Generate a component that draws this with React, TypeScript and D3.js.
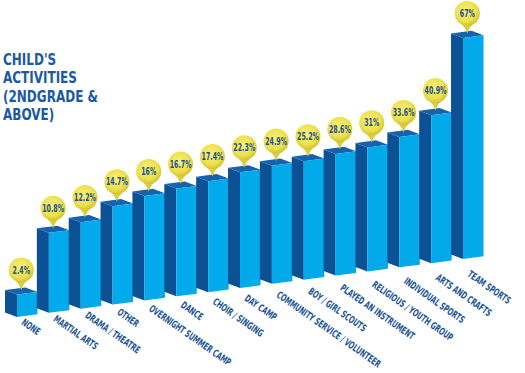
import React from "react";
import * as d3 from "d3";

const categories = [
  "NONE",
  "MARTIAL ARTS",
  "DRAMA / THEATRE",
  "OTHER",
  "OVERNIGHT SUMMER CAMP",
  "DANCE",
  "CHOIR / SINGING",
  "DAY CAMP",
  "COMMUNITY SERVICE / VOLUNTEER",
  "BOY / GIRL SCOUTS",
  "PLAYED AN INSTRUMENT",
  "RELIGIOUS / YOUTH GROUP",
  "INDIVIDUAL SPORTS",
  "ARTS AND CRAFTS",
  "TEAM SPORTS",
];
const values = [2.4, 10.8, 12.2, 14.7, 16, 16.7, 17.4, 22.3, 24.9, 25.2, 28.6, 31, 33.6, 40.9, 67];
const valueLabels = ["2.4%", "10.8%", "12.2%", "14.7%", "16%", "16.7%", "17.4%", "22.3%", "24.9%", "25.2%", "28.6%", "31%", "33.6%", "40.9%", "67%"];
const titleLines = ["CHILD'S", "ACTIVITIES", "(2NDGRADE &", "ABOVE)"];

const W = 525;
const H = 373;

export default function App() {
  const x = d3
    .scaleBand<string>()
    .domain(categories)
    .range([5, 5 + 31.86 * categories.length])
    .paddingInner(0)
    .paddingOuter(0);
  // infographic (non-proportional) height scale
  const h = d3
    .scaleLinear()
    .domain([0, 10.8, 17.4, 31, 40.9, 67])
    .range([6, 80, 111, 124, 148, 221]);

  const baseY = 317;
  const skew = (px: number) => -0.13 * (px - 17);
  const depthX = -12;
  const depthY = -4.5;
  const faceW = 20.5;

  const front = "#02aaeb";
  const side = "#0b5193";
  const top = "#1762ad";
  const ink = "#1c5593";

  const pts = (a: [number, number][]) => a.map((p) => p.join(",")).join(" ");

  return (
    <svg width={W} height={H} style={{ position: "absolute", left: 0, top: 0 }}>
      <defs>
        <radialGradient id="ball" cx="45%" cy="40%" r="60%">
          <stop offset="0%" stopColor="#f7f07a" />
          <stop offset="70%" stopColor="#ede04e" />
          <stop offset="100%" stopColor="#d2c231" />
        </radialGradient>
      </defs>
      <rect width={W} height={H} fill="#ffffff" />
      {titleLines.map((t, i) => (
        <text
          key={t}
          transform={`translate(3, ${64.5 + i * 18.5}) scale(0.76,1)`}
          fontFamily="DejaVu Sans"
          fontWeight="bold"
          fontSize={15.8}
          fill="#1b5a9f"
        >
          {t}
        </text>
      ))}
      {categories.map((c, i) => {
        const L = x(c) as number;
        const fl = L + 12;
        const fr = fl + faceW;
        const hh = h(values[i]);
        const tl = baseY - hh + skew(fl);
        const tr = baseY - hh + skew(fr);
        const bl = baseY + skew(fl);
        const br = baseY + skew(fr);
        const tipX = (fl + fr) / 2 + depthX / 2;
        const tipY = (tl + tr) / 2 + depthY / 2 - 1;
        const cy = tipY - 20;
        const r = 12.5;
        const a = 0.45;
        const pin = `M${tipX - r * Math.sin(a)},${cy + r * Math.cos(a)} Q${tipX - 2},${tipY - 6} ${tipX},${tipY} Q${tipX + 2},${tipY - 6} ${tipX + r * Math.sin(a)},${cy + r * Math.cos(a)} Z`;
        const lx = fl + 8;
        const ly = baseY + 1 - 0.108 * (fl - 17);
        return (
          <g key={c}>
            <polygon points={pts([[fl + depthX, tl + depthY], [fl, tl], [fl, bl], [fl + depthX, bl + depthY]])} fill={side} />
            <polygon points={pts([[fl + depthX, tl + depthY], [fr + depthX, tr + depthY], [fr, tr], [fl, tl]])} fill={top} />
            <polygon points={pts([[fl, tl], [fr, tr], [fr, br], [fl, bl]])} fill={front} />
            <path d={pin} fill="#dccd3c" />
            <circle cx={tipX} cy={cy} r={r} fill="url(#ball)" />
            <text
              transform={`translate(${tipX}, ${cy + 3.6}) scale(0.63,1)`}
              textAnchor="middle"
              fontFamily="DejaVu Sans"
              fontWeight="bold"
              fontSize={10}
              fill="#1d4f8c"
            >
              {valueLabels[i]}
            </text>
            <text
              transform={`translate(${lx}, ${ly}) rotate(35) scale(0.63,1)`}
              x={0}
              y={7.3}
              fontFamily="DejaVu Sans"
              fontWeight="bold"
              fontSize={10}
              fill={ink}
            >
              {c}
            </text>
          </g>
        );
      })}
    </svg>
  );
}
